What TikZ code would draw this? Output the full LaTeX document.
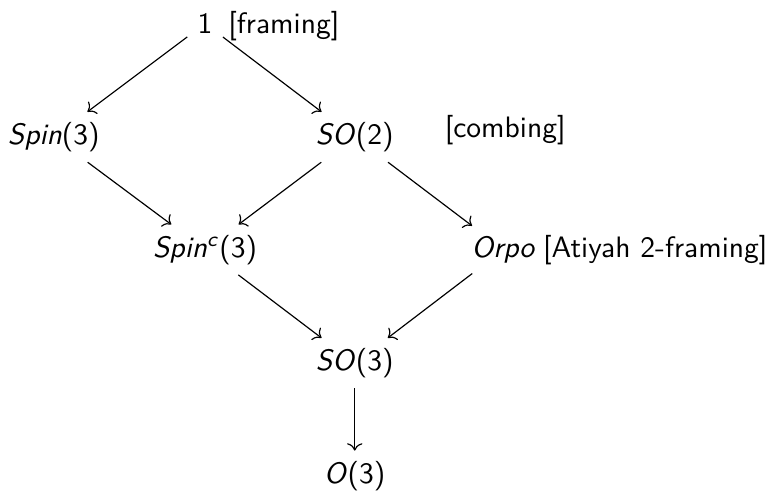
\documentclass[tikz,border=0pt]{standalone}
\usepackage{fontspec}
\usetikzlibrary{arrows.meta}

\begin{document}
\begin{tikzpicture}[font=\sffamily]
\useasboundingbox (0,0) rectangle (9.16,5.85);
\begin{scope}[every node/.style={}]
    \node (one) at (2.44,5.57) {1};
    \node (spin) at (0.64,4.22) {\textit{Spin}(3)};
    \node (so2) at (4.22,4.22) {\textit{SO}(2)};
    \node (spinc) at (2.44,2.88) {\textit{Spin}\textsuperscript{\textit{c}}(3)};
    \node (orpo) at (5.99,2.88) {\textit{Orpo}};
    \node (so3) at (4.22,1.53) {\textit{SO}(3)};
    \node (o3) at (4.22,0.19) {\textit{O}(3)};
\end{scope}

% labels beside the groups
\node[anchor=base west] (framing) at ([xshift=-1.7pt]one.base east) {[framing]};
\node (combing) at (6.01,4.30) {[combing]};
\node[anchor=base west] (atiyah) at ([xshift=-4.5pt]orpo.base east) {[Atiyah 2-framing]};

\begin{scope}[every edge/.style={draw=black,->}]
    \path (one) edge (spin);
    \path (one) edge (so2);
    \path (spin) edge (spinc);
    \path (so2) edge (spinc);
    \path (so2) edge (orpo);
    \path (spinc) edge (so3);
    \path (orpo) edge (so3);
    \path (so3) edge (o3);
\end{scope}
\end{tikzpicture}
\end{document}
